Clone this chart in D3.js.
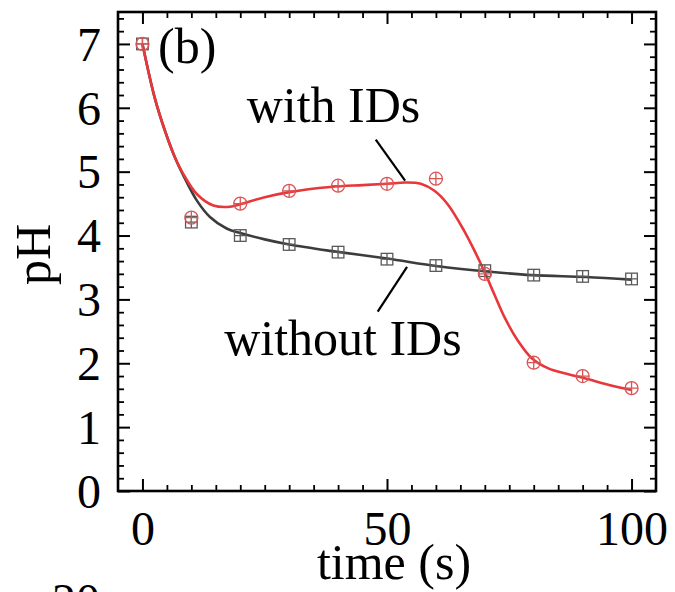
<!DOCTYPE html>
<html>
<head>
<meta charset="utf-8">
<script src="https://cdn.jsdelivr.net/npm/d3@7"></script>
<style>
  html, body { margin: 0; padding: 0; background: #fff; overflow: hidden; }
  svg { display: block; font-family: "Liberation Serif", "Times New Roman", serif; }
</style>
</head>
<body>
<svg></svg>
<script>
// measured points (markers)
const times = [0, 10, 20, 30, 40, 50, 60, 70, 80, 90, 100];
const phWith = [7.0, 4.28, 4.50, 4.70, 4.78, 4.81, 4.89, 3.40, 2.01, 1.80, 1.61];
const phWithout = [7.0, 4.21, 4.00, 3.86, 3.74, 3.63, 3.53, 3.45, 3.38, 3.36, 3.32];

// fitted curves
const fitWithT = [0, 2.5, 4.6, 6.6, 8.3, 11.1, 14.5, 17.9, 20, 25, 30, 38.4, 45, 50, 53.8, 56.9, 59.7, 62.4, 65.8, 67.9, 70, 72, 74.1, 76.8, 79.6, 83, 86.5, 90.6, 95.4, 100];
const fitWithPH = [7.0, 6.16, 5.64, 5.23, 4.97, 4.65, 4.47, 4.45, 4.49, 4.60, 4.68, 4.76, 4.79, 4.81, 4.83, 4.81, 4.70, 4.49, 4.07, 3.76, 3.42, 3.07, 2.71, 2.35, 2.08, 1.92, 1.84, 1.76, 1.66, 1.58];
const fitWithoutT = [0, 2.5, 4.6, 6.6, 8.3, 11.1, 13.8, 17.2, 20, 25, 30, 38.4, 50, 60.4, 70, 79.6, 90.6, 100];
const fitWithoutPH = [7.0, 6.16, 5.64, 5.23, 4.95, 4.55, 4.29, 4.11, 4.04, 3.94, 3.86, 3.76, 3.64, 3.52, 3.44, 3.38, 3.35, 3.31];

const xMajor = [0, 50, 100];
const yMajor = [0, 1, 2, 3, 4, 5, 6, 7];

const width = 675;
const height = 592;
const plotLeft = 118, plotRight = 656, plotTop = 12, plotBottom = 491;

const redLine = "#e8373a";
const redMark = "#d95555";
const greyLine = "#3c3c3c";
const greyMark = "#5a5a5a";

const svg = d3.select("svg").attr("width", width).attr("height", height);

const x = d3.scaleLinear().domain([-5, 105]).range([plotLeft, plotRight]);
const y = d3.scaleLinear().domain([0, 7.5]).range([plotBottom, plotTop]);

// minor tick positions
const xMinor = d3.range(5, 100, 5).filter(d => d % 50 !== 0);
const yMinor = d3.range(1, 38).map(d => d / 5).filter(d => Math.abs(d - Math.round(d)) > 1e-6);

// axes: ticks point inward on all four sides
const styleAxis = (g, w) => {
    g.select(".domain").remove();
    g.selectAll("line").attr("stroke", "#000").attr("stroke-width", w);
};

svg.append("g").attr("transform", `translate(0,${plotBottom})`)
    .call(d3.axisBottom(x).tickValues(xMajor).tickSize(-12).tickPadding(20).tickFormat(d3.format("d")))
    .call(g => styleAxis(g, 2))
    .selectAll("text").attr("font-size", 48).attr("fill", "#000").style("font-family", "Liberation Serif, serif");
svg.append("g").attr("transform", `translate(0,${plotBottom})`)
    .call(d3.axisBottom(x).tickValues(xMinor).tickSize(-6).tickFormat(""))
    .call(g => styleAxis(g, 1.8));
svg.append("g").attr("transform", `translate(0,${plotTop})`)
    .call(d3.axisTop(x).tickValues(xMajor).tickSize(-12).tickFormat(""))
    .call(g => styleAxis(g, 2));
svg.append("g").attr("transform", `translate(0,${plotTop})`)
    .call(d3.axisTop(x).tickValues(xMinor).tickSize(-6).tickFormat(""))
    .call(g => styleAxis(g, 1.8));

svg.append("g").attr("transform", `translate(${plotLeft},0)`)
    .call(d3.axisLeft(y).tickValues(yMajor).tickSize(-12).tickPadding(17).tickFormat(d3.format("d")))
    .call(g => styleAxis(g, 2))
    .selectAll("text").attr("font-size", 48).attr("fill", "#000").attr("dy", "0.34em").style("font-family", "Liberation Serif, serif");
svg.append("g").attr("transform", `translate(${plotLeft},0)`)
    .call(d3.axisLeft(y).tickValues(yMinor).tickSize(-6).tickFormat(""))
    .call(g => styleAxis(g, 1.8));
svg.append("g").attr("transform", `translate(${plotRight},0)`)
    .call(d3.axisRight(y).tickValues(yMajor).tickSize(-12).tickFormat(""))
    .call(g => styleAxis(g, 2));
svg.append("g").attr("transform", `translate(${plotRight},0)`)
    .call(d3.axisRight(y).tickValues(yMinor).tickSize(-6).tickFormat(""))
    .call(g => styleAxis(g, 1.8));

// frame
svg.append("rect")
    .attr("x", plotLeft).attr("y", plotTop)
    .attr("width", plotRight - plotLeft).attr("height", plotBottom - plotTop)
    .attr("fill", "none").attr("stroke", "#000").attr("stroke-width", 2.6);

// fitted curves
const line = d3.line()
    .x(d => x(d[0]))
    .y(d => y(d[1]))
    .curve(d3.curveCatmullRom.alpha(0.5));

svg.append("path")
    .attr("d", line(d3.zip(fitWithoutT, fitWithoutPH)))
    .attr("fill", "none").attr("stroke", greyLine).attr("stroke-width", 2.6);
svg.append("path")
    .attr("d", line(d3.zip(fitWithT, fitWithPH)))
    .attr("fill", "none").attr("stroke", redLine).attr("stroke-width", 2.6);

// square markers with a cross
const sq = 5.8;
const squares = svg.append("g").attr("stroke", greyMark).attr("stroke-width", 1.3).attr("fill", "none");
squares.selectAll("rect").data(d3.zip(times, phWithout)).enter().append("rect")
    .attr("x", d => x(d[0]) - sq).attr("y", d => y(d[1]) - sq)
    .attr("width", sq * 2).attr("height", sq * 2);
squares.selectAll("path").data(d3.zip(times, phWithout)).enter().append("path")
    .attr("d", d => `M${x(d[0]) - sq},${y(d[1])}H${x(d[0]) + sq}M${x(d[0])},${y(d[1]) - sq}V${y(d[1]) + sq}`);

// circle markers with a cross
const r = 6.5;
const circles = svg.append("g").attr("stroke", redMark).attr("stroke-width", 1.3).attr("fill", "none");
circles.selectAll("circle").data(d3.zip(times, phWith)).enter().append("circle")
    .attr("cx", d => x(d[0])).attr("cy", d => y(d[1])).attr("r", r);
circles.selectAll("path").data(d3.zip(times, phWith)).enter().append("path")
    .attr("d", d => `M${x(d[0]) - r},${y(d[1])}H${x(d[0]) + r}M${x(d[0])},${y(d[1]) - r}V${y(d[1]) + r}`);

// annotations (data units)
const withLabel = [21.3, 5.77];
const withoutLabel = [16.7, 2.13];
const withLeader = [[47.7, 5.50], [53.7, 4.86]];
const withoutLeader = [[54.1, 3.51], [48.1, 2.81]];
const panelLabel = [3.2, 6.70];

const straight = d3.line().x(d => x(d[0])).y(d => y(d[1]));
svg.append("path").attr("d", straight(withLeader)).attr("stroke", "#000").attr("stroke-width", 2.2);
svg.append("path").attr("d", straight(withoutLeader)).attr("stroke", "#000").attr("stroke-width", 2.2);

svg.append("text").attr("x", x(withLabel[0])).attr("y", y(withLabel[1]))
    .attr("font-size", 50).text("with IDs");
svg.append("text").attr("x", x(withoutLabel[0])).attr("y", y(withoutLabel[1]))
    .attr("font-size", 50).text("without IDs");
svg.append("text").attr("x", x(panelLabel[0])).attr("y", y(panelLabel[1]))
    .attr("font-size", 50).text("(b)");

// axis titles
svg.append("text")
    .attr("x", (plotLeft + plotRight) / 2 + 7).attr("y", 579)
    .attr("text-anchor", "middle").attr("font-size", 50).text("time (s)");
svg.append("text")
    .attr("transform", `translate(50,${(plotTop + plotBottom) / 2 + 3}) rotate(-90)`)
    .attr("text-anchor", "middle").attr("font-size", 50).text("pH");

// top of the next panel's tick label, cut by the page edge
svg.append("text").attr("x", 52).attr("y", 617).attr("font-size", 48).text("20");
</script>
</body>
</html>
